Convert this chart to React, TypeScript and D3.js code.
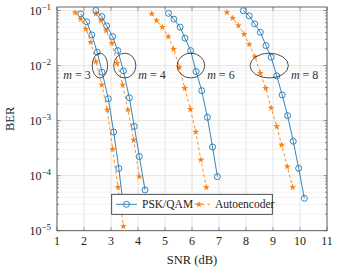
import React, { useRef, useEffect } from 'react';
import * as d3 from 'd3';

// axis ticks
const xTicks = [1, 2, 3, 4, 5, 6, 7, 8, 9, 10, 11];
const yExponents = [-5, -4, -3, -2, -1];

// PSK/QAM (blue circles)
const pskSnr3 = [1.88, 2.1, 2.29, 2.49, 2.67, 2.9, 3.1, 3.29, 3.48];
const pskBer3 = [0.087, 0.0624, 0.0361, 0.0175, 0.0076, 0.0025, 6.2e-4, 1.35e-4, 2.3e-5];
const pskSnr4 = [2.44, 2.66, 2.84, 3.06, 3.25, 3.46, 3.68, 3.86, 4.05, 4.26];
const pskBer4 = [0.1, 0.0778, 0.0527, 0.0337, 0.0187, 0.008, 0.0026, 7.85e-4, 2.23e-4, 5.5e-5];
const pskSnr6 = [5.13, 5.33, 5.56, 5.74, 5.95, 6.15, 6.36, 6.57, 6.76, 6.94];
const pskBer6 = [0.089, 0.0698, 0.0499, 0.0315, 0.0187, 0.0078, 0.0035, 0.00115, 3.32e-4, 9.6e-5];
const pskSnr8 = [7.9, 8.12, 8.32, 8.53, 8.74, 8.93, 9.14, 9.34, 9.54, 9.75, 9.95, 10.16];
const pskBer8 = [0.0989, 0.0801, 0.0573, 0.0404, 0.0231, 0.0142, 0.0065, 0.00293, 0.00123, 4.22e-4, 1.36e-4, 3.88e-5];

// Autoencoder (orange stars)
const aeSnr3 = [1.67, 1.88, 2.07, 2.25, 2.44, 2.66, 2.86, 3.06, 3.26, 3.46];
const aeBer3 = [0.092, 0.0698, 0.0459, 0.0266, 0.0118, 0.00446, 0.00157, 3.05e-4, 6.2e-5, 1.2e-5];
const aeSnr4 = [2.44, 2.63, 2.82, 3.03, 3.23, 3.43, 3.63, 3.84, 4.05];
const aeBer4 = [0.087, 0.0658, 0.0433, 0.0255, 0.0111, 0.00446, 0.00157, 4.46e-4, 9.6e-5];
const aeSnr6 = [4.51, 4.69, 4.9, 5.12, 5.32, 5.53, 5.73, 5.94, 6.14, 6.33, 6.53];
const aeBer6 = [0.087, 0.0658, 0.0499, 0.0337, 0.0199, 0.0093, 0.00388, 0.00161, 6.24e-4, 1.93e-4, 6.15e-5];
const aeSnr8 = [7.29, 7.51, 7.72, 7.93, 8.12, 8.33, 8.53, 8.73, 8.93, 9.14, 9.32, 9.53, 9.73];
const aeBer8 = [0.0927, 0.0728, 0.0531, 0.0373, 0.0243, 0.0146, 0.0073, 0.00388, 0.0017, 7.9e-4, 3.61e-4, 1.46e-4, 6.15e-5];

// ellipse annotations (center snr, half width in dB)
const ringLabels = ['3', '4', '6', '8'];
const ringSnr = [2.59, 3.51, 5.96, 8.86];
const ringHalfWidth = [0.285, 0.41, 0.51, 0.71];

const BLUE = '#1f77b4';
const ORANGE = '#ff7f0e';
const FONT = 'Liberation Serif, Times New Roman, DejaVu Serif, serif';

const BerChart = () => {
  const ref = useRef<SVGSVGElement>(null);

  useEffect(() => {
    if (!ref.current) return;
    const svg = d3.select(ref.current);
    svg.selectAll('*').remove();

    const left = 57, right = 327, top = 7, bottom = 230.7;
    const x = d3.scaleLinear().domain([1, 11]).range([left, right]);
    const y = d3.scaleLog().domain([1e-5, 0.116]).range([bottom, top]);

    // minor grid
    const minors: number[] = [];
    for (let e = -5; e <= -1; e++) {
      for (let k = 2; k <= 9; k++) {
        const v = k * Math.pow(10, e);
        if (v < 0.116) minors.push(v);
      }
    }
    svg.append('g').selectAll('line').data(minors).enter().append('line')
      .attr('x1', left).attr('x2', right)
      .attr('y1', (d) => y(d)).attr('y2', (d) => y(d))
      .attr('stroke', '#efefef').attr('stroke-width', 0.7);

    // major grid
    svg.append('g').selectAll('line').data(xTicks).enter().append('line')
      .attr('x1', (d) => x(d)).attr('x2', (d) => x(d))
      .attr('y1', top).attr('y2', bottom)
      .attr('stroke', '#dddddd').attr('stroke-width', 0.8);
    svg.append('g').selectAll('line').data(yExponents).enter().append('line')
      .attr('x1', left).attr('x2', right)
      .attr('y1', (d) => y(Math.pow(10, d))).attr('y2', (d) => y(Math.pow(10, d)))
      .attr('stroke', '#dddddd').attr('stroke-width', 0.8);

    // inward ticks
    const ticks = svg.append('g').attr('stroke', '#555').attr('stroke-width', 0.6);
    xTicks.forEach((t) => {
      ticks.append('line').attr('x1', x(t)).attr('x2', x(t)).attr('y1', bottom).attr('y2', bottom - 3.5);
      ticks.append('line').attr('x1', x(t)).attr('x2', x(t)).attr('y1', top).attr('y2', top + 3.5);
    });
    yExponents.forEach((e) => {
      const yy = y(Math.pow(10, e));
      ticks.append('line').attr('x1', left).attr('x2', left + 3.5).attr('y1', yy).attr('y2', yy);
      ticks.append('line').attr('x1', right).attr('x2', right - 3.5).attr('y1', yy).attr('y2', yy);
    });
    minors.forEach((v) => {
      const yy = y(v);
      ticks.append('line').attr('x1', left).attr('x2', left + 2).attr('y1', yy).attr('y2', yy);
      ticks.append('line').attr('x1', right).attr('x2', right - 2).attr('y1', yy).attr('y2', yy);
    });

    // frame
    svg.append('rect')
      .attr('x', left).attr('y', top)
      .attr('width', right - left).attr('height', bottom - top)
      .attr('fill', 'none').attr('stroke', '#444').attr('stroke-width', 0.8);

    // tick labels
    svg.append('g').selectAll('text').data(xTicks).enter().append('text')
      .attr('x', (d) => x(d)).attr('y', bottom + 14)
      .attr('text-anchor', 'middle')
      .style('font-family', FONT).attr('font-size', 12)
      .attr('fill', '#222')
      .text((d) => d);

    const yl = svg.append('g');
    yExponents.forEach((e) => {
      const t = yl.append('text')
        .attr('x', left - 6).attr('y', y(Math.pow(10, e)) + 4)
        .attr('text-anchor', 'end')
        .style('font-family', FONT).attr('font-size', 12).attr('fill', '#222');
      t.append('tspan').text('10');
      t.append('tspan').attr('dy', -5).attr('font-size', 9).text('\u2212' + Math.abs(e));
    });

    svg.append('text')
      .attr('x', (left + right) / 2).attr('y', 264)
      .attr('text-anchor', 'middle')
      .style('font-family', FONT).attr('font-size', 12.5).attr('fill', '#222')
      .text('SNR (dB)');
    svg.append('text')
      .attr('transform', `translate(14, ${(top + bottom) / 2}) rotate(-90)`)
      .attr('text-anchor', 'middle')
      .style('font-family', FONT).attr('font-size', 12.5).attr('fill', '#222')
      .text('BER');

    const plot = svg.append('g');
    const line = d3.line<[number, number]>().x((d) => x(d[0])).y((d) => y(d[1]));
    const star = d3.symbol().type(d3.symbolStar).size(15);

    const drawAe = (snr: number[], ber: number[]) => {
      const pts = snr.map((s, i) => [s, ber[i]] as [number, number]);
      plot.append('path').attr('d', line(pts))
        .attr('fill', 'none').attr('stroke', ORANGE)
        .attr('stroke-width', 0.9).attr('stroke-dasharray', '3,2.5');
      plot.append('g').selectAll('path').data(pts).enter().append('path')
        .attr('d', star())
        .attr('transform', (d) => `translate(${x(d[0])},${y(d[1])})`)
        .attr('fill', ORANGE);
    };
    const drawPsk = (snr: number[], ber: number[]) => {
      const pts = snr.map((s, i) => [s, ber[i]] as [number, number]);
      plot.append('path').attr('d', line(pts))
        .attr('fill', 'none').attr('stroke', BLUE).attr('stroke-width', 0.9);
      plot.append('g').selectAll('circle').data(pts).enter().append('circle')
        .attr('cx', (d) => x(d[0])).attr('cy', (d) => y(d[1]))
        .attr('r', 3).attr('fill', 'none')
        .attr('stroke', BLUE).attr('stroke-width', 0.9);
    };

    drawAe(aeSnr3, aeBer3);
    drawAe(aeSnr4, aeBer4);
    drawAe(aeSnr6, aeBer6);
    drawAe(aeSnr8, aeBer8);
    drawPsk(pskSnr3, pskBer3);
    drawPsk(pskSnr4, pskBer4);
    drawPsk(pskSnr6, pskBer6);
    drawPsk(pskSnr8, pskBer8);

    // ellipses and labels
    ringSnr.forEach((s, i) => {
      const cx = x(s);
      const cy = y(0.01);
      const rx = x(s + ringHalfWidth[i]) - cx;
      plot.append('ellipse')
        .attr('cx', cx).attr('cy', cy).attr('rx', rx).attr('ry', 12.4)
        .attr('fill', 'none').attr('stroke', '#222').attr('stroke-width', 0.8);
      const first = i === 0;
      const t = plot.append('text')
        .attr('x', first ? cx - rx - 1.5 : cx + rx + 2.5)
        .attr('y', cy + 13)
        .attr('text-anchor', first ? 'end' : 'start')
        .style('font-family', FONT).attr('font-size', 12).attr('fill', '#333');
      t.append('tspan').attr('font-style', 'italic').text('m');
      t.append('tspan').text(' = ' + ringLabels[i]);
    });

    // legend
    const lg = svg.append('g');
    lg.append('rect')
      .attr('x', 111.7).attr('y', 194.3).attr('width', 160.6).attr('height', 20)
      .attr('fill', 'white').attr('stroke', '#222').attr('stroke-width', 0.8);
    const ly = 204.3;
    lg.append('line').attr('x1', 116).attr('x2', 137).attr('y1', ly).attr('y2', ly)
      .attr('stroke', BLUE).attr('stroke-width', 0.9);
    lg.append('circle').attr('cx', 126.5).attr('cy', ly).attr('r', 3)
      .attr('fill', 'none').attr('stroke', BLUE).attr('stroke-width', 0.9);
    lg.append('text').attr('x', 142).attr('y', ly + 4)
      .style('font-family', FONT).attr('font-size', 11.5).attr('fill', '#222').text('PSK/QAM');
    lg.append('line').attr('x1', 188).attr('x2', 210).attr('y1', ly).attr('y2', ly)
      .attr('stroke', ORANGE).attr('stroke-width', 0.9).attr('stroke-dasharray', '3.5,3');
    lg.append('path').attr('d', star())
      .attr('transform', `translate(199,${ly})`).attr('fill', ORANGE);
    lg.append('text').attr('x', 215).attr('y', ly + 4)
      .style('font-family', FONT).attr('font-size', 11.5).attr('fill', '#222').text('Autoencoder');
  }, []);

  return (
    <svg
      ref={ref}
      width={339}
      height={271}
      style={{ position: 'absolute', left: 0, top: 0, background: 'white' }}
    />
  );
};

export default function App() {
  return <BerChart />;
}
